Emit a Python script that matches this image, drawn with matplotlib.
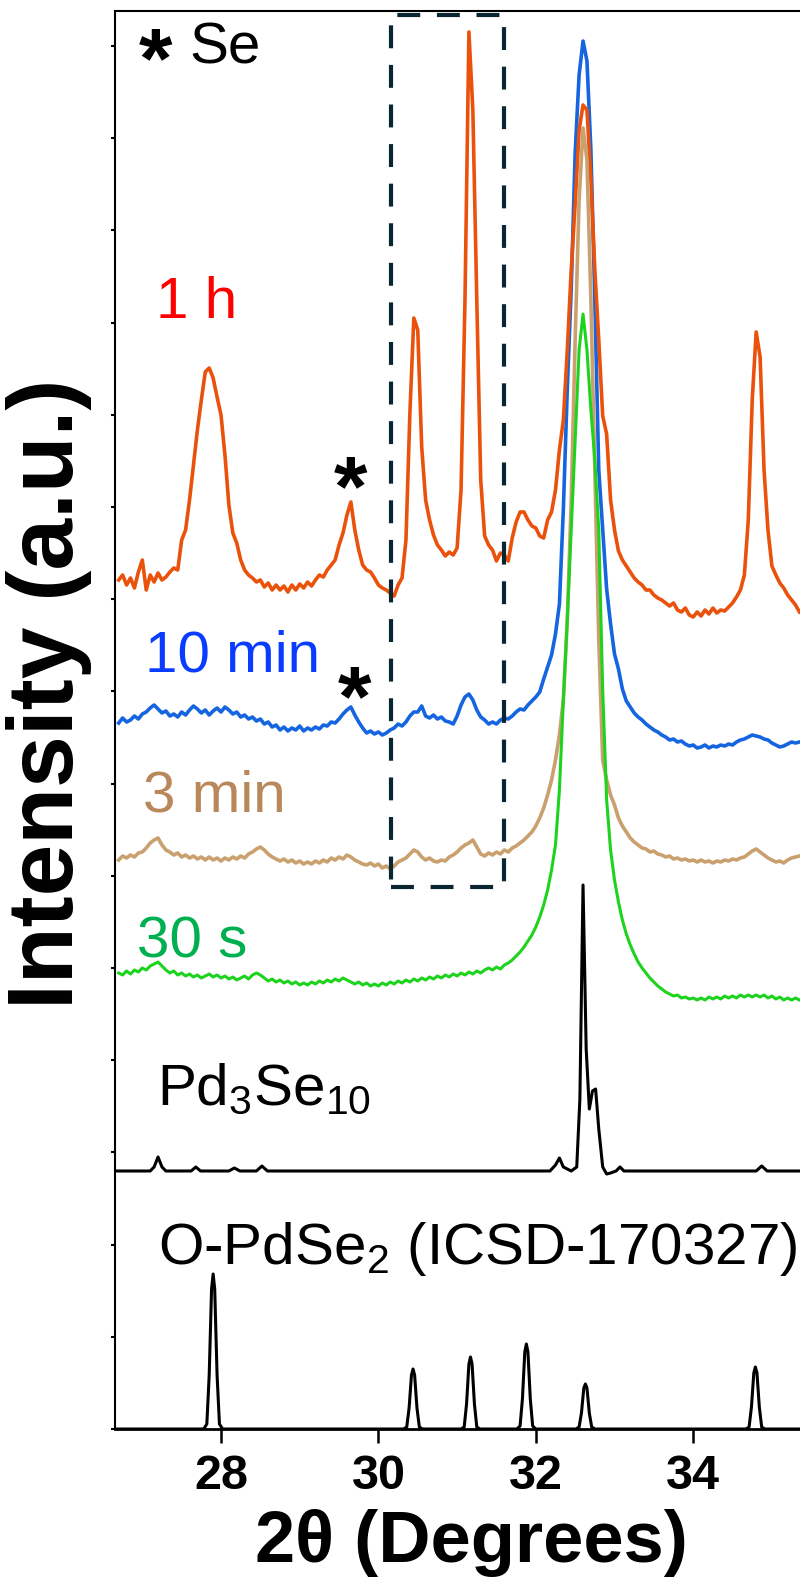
import numpy as np
import matplotlib
matplotlib.use('Agg')
import matplotlib.pyplot as plt
from matplotlib.patches import Rectangle

plt.rcParams['font.family'] = ['Liberation Sans', 'DejaVu Sans']
plt.rcParams['mathtext.default'] = 'regular'

# 2theta grid of the measured patterns (0.05 deg step)
two_theta = np.round(np.arange(26.70, 35.351, 0.05), 2)

# stacked intensities (a.u., offsets included)
i_1h = [849, 854, 844, 851, 841, 857, 869, 839, 854, 847,
        856, 849, 852, 857, 861, 859, 889, 899, 929, 964,
        999, 1029, 1057, 1061, 1051, 1032, 1014, 974, 924, 896,
        886, 869, 859, 854, 851, 847, 849, 842, 846, 839,
        844, 839, 843, 837, 844, 839, 845, 841, 847, 843,
        849, 854, 852, 859, 864, 869, 884, 896, 914, 927,
        899, 879, 864, 859, 857, 851, 844, 841, 839, 836,
        833, 844, 851, 889, 1016, 1111, 1099, 982, 929, 909,
        894, 884, 879, 873, 877, 874, 881, 939, 1129, 1397,
        1319, 1129, 949, 893, 884, 879, 868, 876, 874, 868,
        891, 907, 917, 917, 909, 903, 901, 893, 891, 909,
        917, 939, 979, 1009, 1079, 1159, 1225, 1299, 1324, 1319,
        1249, 1159, 1089, 1013, 995, 929, 899, 878, 869, 863,
        857, 851, 847, 844, 839, 839, 834, 831, 829, 826,
        823, 826, 819, 817, 821, 814, 812, 817, 813, 819,
        815, 821, 816, 819, 818, 822, 826, 832, 839, 854,
        909, 1029, 1097, 1072, 959, 899, 863, 854, 846, 841,
        834, 829, 824, 817]

i_10min = [706, 711, 707, 709, 713, 710, 715, 717, 721, 724,
           720, 716, 718, 713, 715, 712, 717, 714, 719, 723,
           720, 716, 719, 714, 718, 721, 717, 722, 719, 715,
           717, 712, 714, 710, 712, 708, 710, 705, 707, 702,
           704, 699, 702, 698, 701, 699, 703, 698, 701, 699,
           702, 700, 704, 703, 707, 706, 710, 715, 719, 722,
           714, 707, 701, 696, 698, 695, 697, 694, 696, 699,
           701, 705, 703, 707, 713, 717, 717, 723, 713, 711,
           714, 710, 712, 708, 707, 705, 713, 724, 732, 735,
           729, 719, 712, 709, 705, 707, 705, 709, 711, 710,
           713, 717, 720, 719, 724, 728, 732, 737, 750, 762,
           774, 795, 825, 920, 1040, 1140, 1276, 1354, 1388, 1368,
           1279, 1129, 959, 900, 840, 805, 775, 760, 740, 728,
           722, 716, 712, 709, 705, 702, 699, 697, 694, 692,
           689, 690, 687, 688, 685, 683, 684, 681, 682, 684,
           681, 683, 682, 684, 683, 685, 684, 687, 689, 690,
           692, 694, 693, 692, 690, 689, 686, 684, 682, 683,
           685, 687, 686, 687]

i_3min = [569, 573, 571, 574, 572, 576, 577, 581, 586, 589,
          591, 584, 579, 577, 574, 576, 572, 574, 571, 573,
          570, 572, 569, 572, 569, 571, 568, 571, 569, 572,
          570, 573, 571, 575, 577, 580, 582, 579, 575, 572,
          570, 568, 570, 567, 569, 566, 568, 565, 567, 565,
          568, 566, 569, 567, 571, 569, 572, 570, 574, 572,
          569, 567, 565, 564, 566, 563, 565, 561, 563, 560,
          563, 567, 569, 571, 575, 579, 577, 572, 569, 571,
          568, 567, 569, 568, 572, 574, 577, 581, 584, 586,
          589, 582, 575, 573, 576, 574, 577, 575, 579, 577,
          581, 583, 586, 589, 593, 597, 603, 611, 621, 634,
          649, 669, 694, 729, 809, 929, 1089, 1229, 1301, 1269,
          1129, 959, 789, 669, 649, 634, 624, 611, 603, 597,
          591, 587, 584, 581, 580, 577, 578, 575, 574, 572,
          573, 570, 571, 569, 570, 568, 569, 567, 569, 567,
          568, 566, 568, 567, 569, 568, 570, 569, 571, 572,
          575, 578, 580, 577, 574, 571, 569, 567, 568, 566,
          569, 571, 572, 573]

i_30s = [456, 454, 458, 455, 459, 457, 461, 459, 463, 465,
         467, 463, 459, 456, 458, 454, 456, 453, 455, 452,
         454, 451, 453, 455, 452, 454, 451, 453, 450, 452,
         449, 451, 453, 450, 454, 456, 454, 451, 448, 450,
         447, 449, 446, 448, 445, 447, 444, 446, 444, 447,
         445, 448, 446, 449, 447, 450, 448, 451, 449, 447,
         445, 447, 444, 446, 443, 445, 443, 446, 444, 447,
         445, 448, 446, 449, 447, 450, 448, 451, 449, 452,
         450, 453, 451, 454, 452, 455, 453, 456, 454, 457,
         455, 458, 456, 459, 461, 459, 462, 460, 464, 466,
         469, 473, 477, 482, 488, 494, 502, 512, 524, 539,
         559, 584, 639, 729, 809, 899, 989, 1079, 1115, 1079,
         1019, 969, 899, 739, 629, 579, 549, 527, 509, 495,
         484, 475, 467, 461, 456, 451, 447, 443, 440, 437,
         435, 433, 434, 431, 432, 430, 431, 429, 431, 429,
         432, 430, 432, 430, 433, 431, 433, 431, 434, 432,
         434, 432, 434, 432, 434, 431, 433, 430, 432, 429,
         431, 429, 431, 429]

# simulated Pd3Se10 pattern
pd3se10_x = [26.65, 27.10, 27.15, 27.20, 27.25, 27.30, 27.62, 27.68, 27.74,
             28.10, 28.17, 28.24, 28.45, 28.52, 28.59, 32.18, 32.25, 32.30,
             32.35, 32.45, 32.52, 32.56, 32.60, 32.64, 32.68, 32.72, 32.76,
             32.80, 32.85, 32.90, 32.95, 33.02, 33.07, 33.12, 34.80, 34.87,
             34.94, 35.70]
pd3se10_y = [258, 258, 262, 272, 262, 258, 258, 262, 258,
             258, 261, 258, 258, 263, 258, 258, 264, 271,
             262, 258, 262, 330, 544, 380, 320, 338, 340,
             300, 262, 255, 256, 258, 262, 258, 258, 263,
             258, 258]

# O-PdSe2 reference (ICSD-170327)
opdse2_x = [26.65,
            27.78, 27.82, 27.85, 27.88, 27.90, 27.92, 27.95, 27.98, 28.02,
            30.32, 30.36, 30.39, 30.42, 30.44, 30.46, 30.49, 30.52, 30.56,
            31.05, 31.09, 31.12, 31.15, 31.17, 31.19, 31.22, 31.25, 31.29,
            31.76, 31.80, 31.83, 31.86, 31.88, 31.90, 31.93, 31.96, 32.00,
            32.51, 32.55, 32.58, 32.61, 32.63, 32.65, 32.68, 32.71, 32.75,
            34.67, 34.71, 34.74, 34.77, 34.79, 34.81, 34.84, 34.87, 34.91,
            35.70]
opdse2_y = [0,
            0, 5, 54, 140, 155, 140, 54, 5, 0,
            0, 2, 21, 54, 60, 54, 21, 2, 0,
            0, 2, 25, 65, 72, 65, 25, 2, 0,
            0, 3, 30, 77, 85, 77, 30, 3, 0,
            0, 2, 16, 41, 45, 41, 16, 2, 0,
            0, 2, 22, 56, 62, 56, 22, 2, 0,
            0]

fig = plt.figure(figsize=(8, 15.81), dpi=100)
ax = fig.add_axes([115 / 800, 152 / 1581, 712 / 800, 1418 / 1581])

ax.plot(two_theta, i_10min, color='#1565e0', lw=2.6, zorder=3)
ax.plot(two_theta, i_1h, color='#ea520c', lw=2.6, zorder=4)
ax.plot(two_theta, i_3min, color='#c9a06e', lw=2.6, zorder=5)
ax.plot(two_theta, i_30s, color='#1ed31e', lw=2.2, zorder=6)
ax.plot(pd3se10_x, pd3se10_y, color='black', lw=2.2, zorder=4)
ax.plot(opdse2_x, opdse2_y, color='black', lw=2.2, zorder=4)

# box around the 30.4 / 31.2 region
ax.add_patch(Rectangle((30.16, 542), 1.44, 872, fill=False, ec='#0b2633',
                       lw=3, ls=(0, (5.5, 4)), zorder=7))

ax.set_xlim(26.653, 35.70)
ax.set_ylim(0, 1418)
ax.set_xticks([28, 30, 32, 34])
ax.set_yticks(np.arange(0, 1418, 92.2))
ax.set_yticklabels([])
ax.tick_params(axis='y', direction='out', length=3, width=1.5)
ax.tick_params(axis='x', direction='out', length=10, width=1.8, pad=8)
for lab in ax.get_xticklabels():
    lab.set_fontsize(35)
    lab.set_fontweight('bold')
    lab.set_family(['Liberation Sans Narrow', 'Liberation Sans'])
ax.spines['right'].set_visible(False)
for s in ['left', 'top']:
    ax.spines[s].set_linewidth(1.5)
ax.spines['bottom'].set_linewidth(2)

# labels
ax.text(27.695, 1126, '1 h', color='#ff0000', fontsize=42, ha='center', va='center')
ax.text(28.14, 773, '10 min', color='#0a3cff', fontsize=42, ha='center', va='center')
ax.text(27.91, 632, '3 min', color='#b8875a', fontsize=42, ha='center', va='center')
ax.text(27.63, 486, '30 s', color='#00b050', fontsize=42, ha='center', va='center')
ax.text(28.55, 339, 'Pd$_3$Se$_{10}$', color='black', fontsize=42, ha='center', va='center')
ax.text(27.20, 180, 'O-PdSe$_2$ (ICSD-170327)', color='black', fontsize=42, ha='left', va='center')
ax.text(27.60, 1380, 'Se', color='black', fontsize=42, ha='left', va='center')
ax.text(27.17, 1364, '*', color='black', fontsize=62, fontweight='bold', ha='center', va='center')
ax.text(29.64, 936, '*', color='black', fontsize=62, fontweight='bold', ha='center', va='center')
ax.text(29.70, 726, '*', color='black', fontsize=62, fontweight='bold', ha='center', va='center')

fig.text(49 / 800, 1 - 694 / 1581, 'Intensity (a.u.)', rotation=90, ha='center',
         va='center', fontsize=67, fontweight='bold')
fig.text(471 / 800, 1 - 1543 / 1581, '2θ (Degrees)', ha='center', va='center',
         fontsize=52, fontweight='bold')

fig.savefig('out.png', dpi=100)
